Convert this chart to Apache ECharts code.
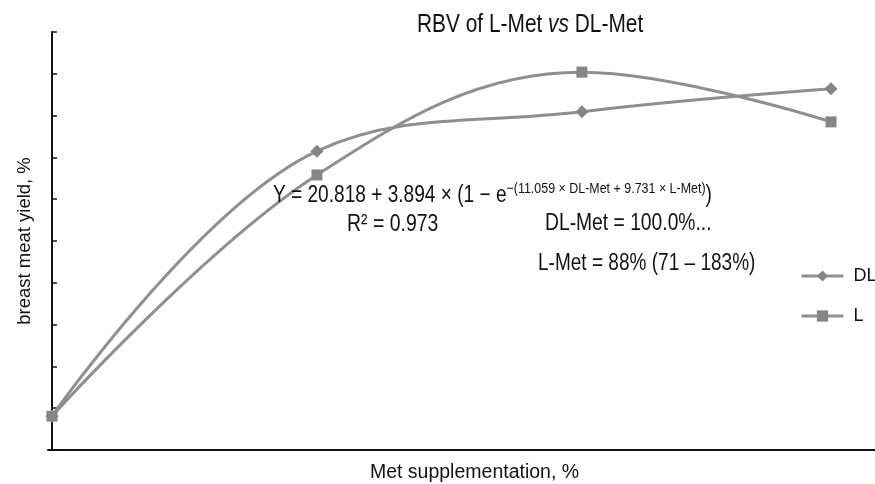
<!DOCTYPE html>
<html>
<head>
<meta charset="utf-8">
<script src="https://cdn.jsdelivr.net/npm/echarts@6/dist/echarts.min.js"></script>
<style>html,body{margin:0;padding:0;background:#fff}#c{width:875px;height:484px}</style>
</head>
<body>
<div id="c"></div>
<script>
// Met supplementation levels (estimated positions) and yields (relative units)
const xLevels = [0, 0.1, 0.2, 0.294];
const dlValues = [0.81, 7.15, 8.09, 8.64];
const lValues = [0.81, 6.58, 9.04, 7.85];
const seriesNames = ['DL', 'L'];
const yTicks = [0, 1, 2, 3, 4, 5, 6, 7, 8, 9, 10];

const chart = echarts.init(document.getElementById('c'));
const FONT = 'Liberation Sans, Arial, sans-serif';
const lineColor = '#8f8f8f';
const markColor = '#858585';
const NARROW_SCALE = 0.82;

function pairs(xs, ys) { return xs.map((x, i) => [x, ys[i]]); }

chart.setOption({
  animation: false,
  backgroundColor: '#fff',
  textStyle: { fontFamily: FONT },
  grid: { left: 48, right: 0, top: 32, bottom: 34, outerBoundsMode: 'none', containLabel: false },
  xAxis: {
    type: 'value', min: -0.0015, max: 0.3106,
    name: 'Met supplementation, %', nameLocation: 'middle', nameGap: 13,
    nameTextStyle: { fontSize: 19.5, color: '#111', fontFamily: FONT, padding: [0, 0, 0, 26] },
    axisLine: { lineStyle: { color: '#111', width: 2 } },
    axisTick: { show: false }, axisLabel: { show: false }, splitLine: { show: false }
  },
  yAxis: {
    type: 'value', min: yTicks[0], max: yTicks[yTicks.length - 1], interval: 1,
    name: 'breast meat yield, %', nameLocation: 'middle', nameGap: 14,
    nameTextStyle: { fontSize: 18.5, color: '#111', fontFamily: FONT },
    axisLine: { show: true, lineStyle: { color: '#111', width: 2 } },
    axisTick: { show: true, inside: true, length: 5, lineStyle: { color: '#111', width: 1.5 } },
    axisLabel: { show: false }, splitLine: { show: false }
  },
  legend: {
    orient: 'vertical', left: 800, top: 267, padding: 0, itemWidth: 42, itemHeight: 14, itemGap: 22,
    lineStyle: { width: 3 },
    textStyle: { fontSize: 18, color: '#111', fontFamily: FONT, padding: [0, 0, 0, 5] },
    data: seriesNames
  },
  series: [
    {
      name: seriesNames[0], type: 'line', smooth: 0.38,
      data: pairs(xLevels, dlValues),
      symbol: 'diamond', symbolSize: 13,
      lineStyle: { color: lineColor, width: 3 },
      itemStyle: { color: markColor }
    },
    {
      name: seriesNames[1], type: 'line', smooth: 0.38,
      data: pairs(xLevels, lValues),
      symbol: 'rect', symbolSize: 11,
      lineStyle: { color: lineColor, width: 3 },
      itemStyle: { color: markColor }
    }
  ],
  graphic: [
    {
      type: 'text', x: 417, y: 13, scaleX: 0.835, z: 100,
      style: {
        text: '{n|RBV of L-Met }{i|vs}{n| DL-Met}',
        rich: {
          n: { fontSize: 25, fontFamily: FONT, fill: '#111' },
          i: { fontSize: 25, fontFamily: FONT, fontStyle: 'italic', fill: '#111' }
        }
      }
    },
    {
      type: 'text', x: 273, y: 181, scaleX: 0.83, z: 100,
      style: {
        text: '{m|Y = 20.818 + 3.894 × (1 − e}{s|−(11.059 × DL-Met + 9.731 × L-Met)}{m|)}',
        rich: {
          m: { fontSize: 23, fontFamily: FONT, fill: '#111', verticalAlign: 'bottom', lineHeight: 26 },
          s: { fontSize: 15, fontFamily: FONT, fill: '#111', verticalAlign: 'top', lineHeight: 24 }
        }
      }
    },
    {
      type: 'text', x: 347, y: 212, scaleX: 0.81, z: 100,
      style: { text: 'R² = 0.973', fontSize: 24, fontFamily: FONT, fill: '#111' }
    },
    {
      type: 'text', x: 545, y: 212, scaleX: NARROW_SCALE, z: 100,
      style: { text: 'DL-Met = 100.0%...', fontSize: 23.5, fontFamily: FONT, fill: '#111' }
    },
    {
      type: 'text', x: 538, y: 252, scaleX: 0.81, z: 100,
      style: { text: 'L-Met = 88% (71 – 183%)', fontSize: 23.5, fontFamily: FONT, fill: '#111' }
    }
  ]
});
</script>
</body>
</html>
